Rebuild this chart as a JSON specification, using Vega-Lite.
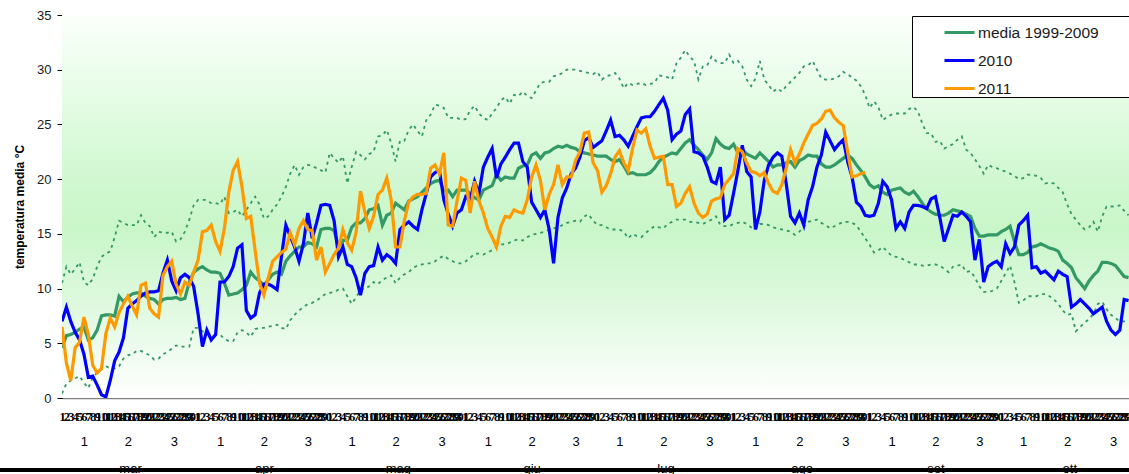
{
  "$schema": "https://vega.github.io/schema/vega-lite/v6.json",
  "autosize": "none",
  "width": 1067,
  "height": 383,
  "padding": {"left": 62, "top": 15, "right": 0, "bottom": 76},
  "background": "white",
  "config": {
    "font": "Liberation Sans",
    "view": {"stroke": null},
    "axisY": {"grid": true, "gridColor": "#3c3c3c", "gridWidth": 1, "domainColor": "black", "tickColor": "black", "tickSize": 5, "labelFontSize": 13, "labelColor": "#1a1a1a", "labelPadding": 6, "titleFontSize": 12, "titleFontWeight": "bold", "titleColor": "black", "titlePadding": 10}
  },
  "data": {"values": [
{"d":1,"m":4.6,"a":7.0,"b":6.5,"hi":10.5,"lo":0.4},
{"d":2,"m":5.7,"a":8.3,"b":3.2,"hi":12.0,"lo":1.3},
{"d":3,"m":5.8,"a":7.0,"b":1.6,"hi":11.3,"lo":1.6},
{"d":4,"m":6.0,"a":6.0,"b":4.6,"hi":11.8,"lo":1.8},
{"d":5,"m":6.3,"a":5.3,"b":5.1,"hi":12.4,"lo":2.0},
{"d":6,"m":6.5,"a":4.0,"b":7.4,"hi":10.6,"lo":1.4},
{"d":7,"m":5.3,"a":1.9,"b":5.8,"hi":10.3,"lo":0.9},
{"d":8,"m":5.5,"a":2.0,"b":3.0,"hi":10.9,"lo":1.9},
{"d":9,"m":6.2,"a":1.2,"b":2.3,"hi":12.0,"lo":2.3},
{"d":10,"m":7.5,"a":0.3,"b":2.7,"hi":12.9,"lo":2.6},
{"d":11,"m":7.6,"a":0.1,"b":5.9,"hi":13.2,"lo":2.9},
{"d":12,"m":7.6,"a":1.6,"b":7.3,"hi":13.4,"lo":2.7},
{"d":13,"m":7.5,"a":3.4,"b":6.5,"hi":14.7,"lo":2.7},
{"d":14,"m":9.3,"a":4.2,"b":7.8,"hi":16.2,"lo":2.9},
{"d":15,"m":8.8,"a":5.5,"b":8.6,"hi":16.0,"lo":3.6},
{"d":16,"m":9.2,"a":8.2,"b":9.3,"hi":15.8,"lo":3.9},
{"d":17,"m":9.5,"a":8.6,"b":8.4,"hi":15.8,"lo":4.0},
{"d":18,"m":9.6,"a":8.9,"b":7.6,"hi":15.8,"lo":4.3},
{"d":19,"m":9.6,"a":9.3,"b":10.3,"hi":16.7,"lo":4.3},
{"d":20,"m":9.3,"a":9.6,"b":10.5,"hi":16.0,"lo":4.1},
{"d":21,"m":9.1,"a":9.7,"b":8.2,"hi":15.7,"lo":3.9},
{"d":22,"m":9.0,"a":9.7,"b":7.7,"hi":14.7,"lo":3.5},
{"d":23,"m":8.6,"a":9.8,"b":7.4,"hi":15.2,"lo":3.6},
{"d":24,"m":9.0,"a":11.4,"b":11.2,"hi":15.1,"lo":4.0},
{"d":25,"m":9.1,"a":12.6,"b":12.0,"hi":15.1,"lo":4.2},
{"d":26,"m":9.1,"a":10.7,"b":12.5,"hi":15.2,"lo":4.5},
{"d":27,"m":9.2,"a":9.8,"b":10.4,"hi":14.3,"lo":4.8},
{"d":28,"m":9.0,"a":11.0,"b":9.5,"hi":14.5,"lo":4.7},
{"d":29,"m":9.1,"a":11.3,"b":10.6,"hi":15.2,"lo":4.7},
{"d":30,"m":10.6,"a":11.0,"b":10.3,"hi":16.3,"lo":4.7},
{"d":31,"m":11.5,"a":10.2,"b":11.5,"hi":17.6,"lo":6.4},
{"d":32,"m":11.8,"a":7.7,"b":12.6,"hi":18.1,"lo":6.4},
{"d":33,"m":12.0,"a":4.7,"b":15.2,"hi":18.1,"lo":6.1},
{"d":34,"m":11.7,"a":6.2,"b":15.3,"hi":18.1,"lo":5.9},
{"d":35,"m":11.5,"a":5.3,"b":15.8,"hi":17.8,"lo":5.8},
{"d":36,"m":11.5,"a":5.8,"b":14.3,"hi":17.8,"lo":5.8},
{"d":37,"m":11.4,"a":10.6,"b":13.4,"hi":17.7,"lo":5.8},
{"d":38,"m":10.5,"a":10.6,"b":15.5,"hi":18.4,"lo":5.4},
{"d":39,"m":9.4,"a":11.1,"b":18.8,"hi":16.9,"lo":5.2},
{"d":40,"m":9.5,"a":12.0,"b":20.8,"hi":17.0,"lo":5.2},
{"d":41,"m":9.6,"a":13.7,"b":21.6,"hi":17.2,"lo":6.0},
{"d":42,"m":9.9,"a":14.0,"b":19.3,"hi":16.6,"lo":6.2},
{"d":43,"m":10.3,"a":8.0,"b":16.4,"hi":17.2,"lo":6.0},
{"d":44,"m":11.5,"a":7.3,"b":16.6,"hi":17.8,"lo":5.6},
{"d":45,"m":11.0,"a":7.6,"b":13.5,"hi":18.4,"lo":6.3},
{"d":46,"m":10.7,"a":9.6,"b":10.5,"hi":17.7,"lo":6.4},
{"d":47,"m":10.3,"a":10.4,"b":9.4,"hi":16.4,"lo":6.4},
{"d":48,"m":10.8,"a":10.4,"b":11.0,"hi":16.6,"lo":6.5},
{"d":49,"m":11.3,"a":10.2,"b":12.5,"hi":17.2,"lo":6.6},
{"d":50,"m":11.5,"a":9.9,"b":12.9,"hi":17.7,"lo":6.7},
{"d":51,"m":11.3,"a":12.9,"b":13.3,"hi":18.4,"lo":6.4},
{"d":52,"m":12.5,"a":15.8,"b":13.6,"hi":19.3,"lo":6.3},
{"d":53,"m":13.0,"a":14.8,"b":15.1,"hi":20.5,"lo":7.1},
{"d":54,"m":13.4,"a":13.8,"b":14.0,"hi":21.3,"lo":7.6},
{"d":55,"m":13.8,"a":12.5,"b":15.5,"hi":20.4,"lo":8.0},
{"d":56,"m":13.8,"a":14.1,"b":16.2,"hi":21.1,"lo":8.3},
{"d":57,"m":14.2,"a":16.9,"b":15.4,"hi":21.3,"lo":8.6},
{"d":58,"m":14.1,"a":14.6,"b":15.3,"hi":21.2,"lo":8.7},
{"d":59,"m":13.8,"a":16.0,"b":12.6,"hi":21.0,"lo":8.9},
{"d":60,"m":15.4,"a":17.6,"b":13.8,"hi":20.8,"lo":9.2},
{"d":61,"m":15.5,"a":17.7,"b":11.5,"hi":20.6,"lo":9.5},
{"d":62,"m":15.5,"a":17.6,"b":12.3,"hi":22.4,"lo":9.6},
{"d":63,"m":15.3,"a":16.2,"b":13.1,"hi":21.9,"lo":9.7},
{"d":64,"m":13.8,"a":12.9,"b":13.7,"hi":21.5,"lo":9.9},
{"d":65,"m":14.4,"a":13.8,"b":15.4,"hi":22.1,"lo":10.0},
{"d":66,"m":14.4,"a":12.2,"b":14.2,"hi":19.6,"lo":9.3},
{"d":67,"m":15.6,"a":12.0,"b":13.5,"hi":21.1,"lo":8.6},
{"d":68,"m":16.0,"a":11.0,"b":15.1,"hi":22.5,"lo":9.2},
{"d":69,"m":16.0,"a":9.4,"b":18.9,"hi":22.2,"lo":9.9},
{"d":70,"m":16.4,"a":11.4,"b":17.0,"hi":21.8,"lo":10.0},
{"d":71,"m":17.2,"a":12.0,"b":15.5,"hi":22.3,"lo":10.2},
{"d":72,"m":17.3,"a":12.1,"b":16.6,"hi":22.5,"lo":10.6},
{"d":73,"m":17.6,"a":13.8,"b":18.6,"hi":23.9,"lo":10.4},
{"d":74,"m":15.8,"a":12.6,"b":19.0,"hi":24.0,"lo":10.8},
{"d":75,"m":16.7,"a":13.1,"b":20.1,"hi":24.5,"lo":11.0},
{"d":76,"m":16.9,"a":12.8,"b":18.1,"hi":23.3,"lo":11.2},
{"d":77,"m":17.8,"a":12.3,"b":13.8,"hi":21.6,"lo":10.5},
{"d":78,"m":17.5,"a":15.4,"b":13.8,"hi":23.5,"lo":11.0},
{"d":79,"m":17.2,"a":15.8,"b":16.2,"hi":23.5,"lo":11.3},
{"d":80,"m":18.0,"a":16.1,"b":17.9,"hi":24.5,"lo":11.5},
{"d":81,"m":18.2,"a":15.7,"b":18.4,"hi":25.0,"lo":11.9},
{"d":82,"m":18.4,"a":15.4,"b":18.6,"hi":24.4,"lo":12.1},
{"d":83,"m":18.8,"a":17.2,"b":18.6,"hi":23.9,"lo":12.2},
{"d":84,"m":19.2,"a":18.7,"b":18.7,"hi":25.4,"lo":12.3},
{"d":85,"m":19.6,"a":20.2,"b":21.0,"hi":25.9,"lo":12.3},
{"d":86,"m":19.8,"a":20.6,"b":21.3,"hi":26.8,"lo":12.5},
{"d":87,"m":19.9,"a":20.8,"b":20.5,"hi":26.7,"lo":12.8},
{"d":88,"m":18.9,"a":18.1,"b":22.4,"hi":26.5,"lo":13.0},
{"d":89,"m":19.0,"a":16.8,"b":15.8,"hi":25.6,"lo":12.7},
{"d":90,"m":18.4,"a":15.7,"b":15.7,"hi":25.6,"lo":12.5},
{"d":91,"m":19.0,"a":16.9,"b":18.0,"hi":25.6,"lo":12.3},
{"d":92,"m":19.0,"a":17.2,"b":20.1,"hi":25.4,"lo":12.3},
{"d":93,"m":19.0,"a":18.4,"b":19.9,"hi":25.5,"lo":12.5},
{"d":94,"m":18.7,"a":18.1,"b":16.9,"hi":26.3,"lo":12.8},
{"d":95,"m":18.3,"a":19.8,"b":19.8,"hi":26.7,"lo":13.2},
{"d":96,"m":18.1,"a":18.7,"b":18.0,"hi":26.0,"lo":13.2},
{"d":97,"m":19.0,"a":21.1,"b":16.9,"hi":25.6,"lo":13.1},
{"d":98,"m":19.2,"a":22.0,"b":15.5,"hi":25.4,"lo":13.3},
{"d":99,"m":19.4,"a":22.8,"b":14.7,"hi":26.0,"lo":13.5},
{"d":100,"m":20.4,"a":20.1,"b":13.8,"hi":26.5,"lo":13.8},
{"d":101,"m":19.9,"a":21.4,"b":15.7,"hi":27.2,"lo":14.0},
{"d":102,"m":20.2,"a":22.0,"b":16.6,"hi":27.5,"lo":14.1},
{"d":103,"m":20.1,"a":22.7,"b":16.5,"hi":26.9,"lo":14.2},
{"d":104,"m":20.1,"a":23.3,"b":17.2,"hi":27.7,"lo":14.4},
{"d":105,"m":21.0,"a":23.3,"b":17.0,"hi":27.6,"lo":14.5},
{"d":106,"m":21.2,"a":21.6,"b":16.9,"hi":28.0,"lo":14.4},
{"d":107,"m":21.3,"a":21.1,"b":18.1,"hi":27.6,"lo":14.7},
{"d":108,"m":22.2,"a":17.9,"b":20.2,"hi":27.4,"lo":14.9},
{"d":109,"m":22.4,"a":17.2,"b":21.3,"hi":28.1,"lo":15.0},
{"d":110,"m":21.9,"a":16.5,"b":19.9,"hi":28.8,"lo":15.1},
{"d":111,"m":22.4,"a":17.2,"b":17.2,"hi":28.9,"lo":15.2},
{"d":112,"m":22.5,"a":15.4,"b":18.6,"hi":28.9,"lo":15.4},
{"d":113,"m":22.8,"a":12.3,"b":19.5,"hi":29.4,"lo":15.5},
{"d":114,"m":23.0,"a":16.5,"b":21.3,"hi":29.5,"lo":15.6},
{"d":115,"m":22.9,"a":18.3,"b":19.5,"hi":29.7,"lo":15.8},
{"d":116,"m":23.1,"a":19.2,"b":20.2,"hi":30.0,"lo":16.0},
{"d":117,"m":22.9,"a":20.5,"b":20.2,"hi":30.0,"lo":16.1},
{"d":118,"m":22.8,"a":21.0,"b":21.7,"hi":30.0,"lo":16.2},
{"d":119,"m":22.5,"a":22.0,"b":22.5,"hi":29.9,"lo":16.1},
{"d":120,"m":22.4,"a":23.5,"b":24.2,"hi":29.8,"lo":16.6},
{"d":121,"m":22.3,"a":23.8,"b":24.3,"hi":29.7,"lo":16.8},
{"d":122,"m":22.2,"a":22.9,"b":21.5,"hi":29.6,"lo":16.2},
{"d":123,"m":22.1,"a":23.2,"b":20.8,"hi":29.8,"lo":15.8},
{"d":124,"m":22.1,"a":23.5,"b":18.8,"hi":29.1,"lo":15.8},
{"d":125,"m":22.1,"a":24.4,"b":19.4,"hi":29.4,"lo":15.6},
{"d":126,"m":21.8,"a":25.4,"b":20.5,"hi":29.5,"lo":15.4},
{"d":127,"m":21.6,"a":23.9,"b":22.0,"hi":29.7,"lo":15.4},
{"d":128,"m":21.8,"a":24.0,"b":22.6,"hi":29.2,"lo":15.4},
{"d":129,"m":21.2,"a":23.6,"b":21.5,"hi":28.3,"lo":15.2},
{"d":130,"m":20.5,"a":23.0,"b":20.8,"hi":28.8,"lo":14.6},
{"d":131,"m":20.6,"a":23.9,"b":22.8,"hi":28.6,"lo":15.0},
{"d":132,"m":20.4,"a":24.8,"b":24.5,"hi":28.7,"lo":14.8},
{"d":133,"m":20.4,"a":25.6,"b":24.2,"hi":28.8,"lo":14.7},
{"d":134,"m":20.4,"a":25.7,"b":24.6,"hi":28.6,"lo":15.1},
{"d":135,"m":20.6,"a":25.7,"b":23.0,"hi":28.7,"lo":15.4},
{"d":136,"m":21.0,"a":26.2,"b":21.9,"hi":28.8,"lo":15.7},
{"d":137,"m":21.6,"a":26.8,"b":22.0,"hi":29.5,"lo":15.6},
{"d":138,"m":22.0,"a":27.4,"b":22.1,"hi":29.4,"lo":15.5},
{"d":139,"m":22.2,"a":26.3,"b":19.5,"hi":29.3,"lo":15.9},
{"d":140,"m":22.4,"a":23.6,"b":19.5,"hi":29.1,"lo":16.1},
{"d":141,"m":22.3,"a":24.1,"b":17.5,"hi":30.6,"lo":16.3},
{"d":142,"m":22.8,"a":24.4,"b":17.8,"hi":31.1,"lo":16.3},
{"d":143,"m":23.3,"a":25.9,"b":18.7,"hi":31.8,"lo":16.3},
{"d":144,"m":23.6,"a":26.4,"b":19.3,"hi":31.2,"lo":16.1},
{"d":145,"m":23.1,"a":22.5,"b":17.8,"hi":30.8,"lo":16.1},
{"d":146,"m":22.7,"a":22.4,"b":16.9,"hi":29.1,"lo":16.0},
{"d":147,"m":22.2,"a":22.1,"b":16.5,"hi":30.3,"lo":15.9},
{"d":148,"m":21.8,"a":21.1,"b":16.8,"hi":30.4,"lo":16.1},
{"d":149,"m":22.4,"a":19.8,"b":18.0,"hi":31.2,"lo":16.3},
{"d":150,"m":23.7,"a":19.6,"b":18.2,"hi":30.8,"lo":16.6},
{"d":151,"m":23.2,"a":21.1,"b":18.3,"hi":30.6,"lo":15.8},
{"d":152,"m":22.9,"a":16.3,"b":19.5,"hi":30.6,"lo":15.7},
{"d":153,"m":22.8,"a":16.7,"b":20.0,"hi":31.4,"lo":15.7},
{"d":154,"m":23.2,"a":18.7,"b":20.5,"hi":30.6,"lo":15.9},
{"d":155,"m":22.4,"a":20.8,"b":22.8,"hi":30.8,"lo":16.0},
{"d":156,"m":22.7,"a":23.1,"b":22.5,"hi":30.3,"lo":16.1},
{"d":157,"m":22.3,"a":20.7,"b":21.5,"hi":29.1,"lo":15.9},
{"d":158,"m":22.1,"a":20.2,"b":20.7,"hi":28.5,"lo":15.6},
{"d":159,"m":21.9,"a":15.4,"b":20.6,"hi":29.2,"lo":15.4},
{"d":160,"m":22.4,"a":17.0,"b":20.3,"hi":30.8,"lo":15.9},
{"d":161,"m":22.0,"a":19.9,"b":20.6,"hi":29.1,"lo":15.9},
{"d":162,"m":21.6,"a":21.3,"b":19.6,"hi":28.6,"lo":15.8},
{"d":163,"m":21.1,"a":22.0,"b":18.9,"hi":28.0,"lo":15.6},
{"d":164,"m":21.3,"a":22.4,"b":18.7,"hi":28.3,"lo":15.5},
{"d":165,"m":21.3,"a":22.1,"b":19.5,"hi":28.0,"lo":15.4},
{"d":166,"m":21.5,"a":19.6,"b":21.0,"hi":28.5,"lo":15.3},
{"d":167,"m":21.6,"a":16.6,"b":22.7,"hi":28.9,"lo":15.2},
{"d":168,"m":21.1,"a":16.0,"b":21.5,"hi":29.3,"lo":14.9},
{"d":169,"m":21.7,"a":16.9,"b":22.3,"hi":29.7,"lo":15.2},
{"d":170,"m":21.9,"a":15.8,"b":23.3,"hi":30.3,"lo":15.6},
{"d":171,"m":22.2,"a":18.1,"b":24.1,"hi":30.4,"lo":16.1},
{"d":172,"m":22.1,"a":19.3,"b":24.9,"hi":30.8,"lo":16.2},
{"d":173,"m":22.1,"a":21.1,"b":25.1,"hi":30.0,"lo":16.3},
{"d":174,"m":21.4,"a":22.2,"b":25.5,"hi":29.2,"lo":16.0},
{"d":175,"m":21.1,"a":24.3,"b":26.2,"hi":29.1,"lo":15.8},
{"d":176,"m":21.1,"a":23.5,"b":26.3,"hi":29.1,"lo":15.5},
{"d":177,"m":21.3,"a":22.7,"b":25.6,"hi":29.2,"lo":15.7},
{"d":178,"m":21.6,"a":23.2,"b":25.2,"hi":29.4,"lo":15.9},
{"d":179,"m":21.9,"a":23.6,"b":24.9,"hi":29.8,"lo":16.1},
{"d":180,"m":22.2,"a":21.6,"b":22.5,"hi":29.6,"lo":16.1},
{"d":181,"m":21.9,"a":20.2,"b":20.2,"hi":29.3,"lo":16.0},
{"d":182,"m":21.3,"a":17.9,"b":20.3,"hi":29.0,"lo":15.8},
{"d":183,"m":20.8,"a":17.5,"b":20.5,"hi":28.5,"lo":15.2},
{"d":184,"m":20.2,"a":16.7,"b":20.6,"hi":27.7,"lo":14.6},
{"d":185,"m":19.5,"a":16.6,"hi":26.5,"lo":14.0},
{"d":186,"m":19.2,"a":16.7,"hi":27.1,"lo":13.3},
{"d":187,"m":19.4,"a":17.8,"hi":26.6,"lo":13.5},
{"d":188,"m":18.8,"a":19.8,"hi":25.4,"lo":13.8},
{"d":189,"m":18.6,"a":19.3,"hi":25.7,"lo":13.4},
{"d":190,"m":19.0,"a":18.1,"hi":25.9,"lo":13.0},
{"d":191,"m":19.1,"a":15.5,"hi":26.0,"lo":12.9},
{"d":192,"m":19.2,"a":16.1,"hi":26.0,"lo":12.8},
{"d":193,"m":18.8,"a":15.5,"hi":26.0,"lo":12.6},
{"d":194,"m":18.6,"a":17.0,"hi":26.4,"lo":12.4},
{"d":195,"m":18.9,"a":17.6,"hi":26.6,"lo":12.2},
{"d":196,"m":18.4,"a":17.6,"hi":26.2,"lo":12.2},
{"d":197,"m":17.8,"a":17.5,"hi":25.1,"lo":12.1},
{"d":198,"m":17.3,"a":17.3,"hi":24.2,"lo":12.1},
{"d":199,"m":17.0,"a":18.2,"hi":24.2,"lo":12.2},
{"d":200,"m":16.8,"a":18.4,"hi":23.4,"lo":12.2},
{"d":201,"m":16.7,"a":16.5,"hi":23.5,"lo":12.1},
{"d":202,"m":16.7,"a":14.3,"hi":22.8,"lo":11.8},
{"d":203,"m":16.9,"a":15.5,"hi":23.0,"lo":11.5},
{"d":204,"m":17.2,"a":16.7,"hi":23.2,"lo":12.0},
{"d":205,"m":17.1,"a":16.6,"hi":23.6,"lo":12.1},
{"d":206,"m":17.0,"a":17.0,"hi":23.9,"lo":12.2},
{"d":207,"m":16.8,"a":16.6,"hi":22.7,"lo":11.5},
{"d":208,"m":16.6,"a":16.1,"hi":22.4,"lo":11.6},
{"d":209,"m":15.5,"a":12.6,"hi":21.8,"lo":11.0},
{"d":210,"m":14.8,"a":14.5,"hi":21.2,"lo":10.2},
{"d":211,"m":14.8,"a":10.6,"hi":20.5,"lo":9.7},
{"d":212,"m":14.9,"a":12.0,"hi":21.3,"lo":9.7},
{"d":213,"m":14.9,"a":12.3,"hi":21.1,"lo":9.8},
{"d":214,"m":14.9,"a":12.5,"hi":21.0,"lo":10.0},
{"d":215,"m":15.2,"a":12.0,"hi":20.8,"lo":10.7},
{"d":216,"m":15.4,"a":14.1,"hi":20.7,"lo":11.4},
{"d":217,"m":15.7,"a":13.2,"hi":20.5,"lo":12.1},
{"d":218,"m":14.3,"a":13.8,"hi":20.3,"lo":10.6},
{"d":219,"m":13.1,"a":15.8,"hi":20.0,"lo":8.7},
{"d":220,"m":13.1,"a":16.2,"hi":20.1,"lo":8.9},
{"d":221,"m":13.3,"a":16.7,"hi":20.4,"lo":9.3},
{"d":222,"m":13.8,"a":11.9,"hi":20.4,"lo":9.3},
{"d":223,"m":13.9,"a":12.0,"hi":20.3,"lo":9.3},
{"d":224,"m":14.1,"a":11.4,"hi":20.1,"lo":9.5},
{"d":225,"m":13.9,"a":11.6,"hi":19.6,"lo":9.5},
{"d":226,"m":13.7,"a":11.2,"hi":19.7,"lo":9.3},
{"d":227,"m":13.6,"a":10.8,"hi":19.6,"lo":9.0},
{"d":228,"m":13.4,"a":11.6,"hi":19.2,"lo":8.6},
{"d":229,"m":12.6,"a":11.3,"hi":18.8,"lo":8.0},
{"d":230,"m":12.3,"a":11.1,"hi":17.7,"lo":7.6},
{"d":231,"m":11.9,"a":8.3,"hi":16.8,"lo":7.7},
{"d":232,"m":11.0,"a":8.6,"hi":16.3,"lo":6.1},
{"d":233,"m":10.5,"a":9.0,"hi":15.8,"lo":6.5},
{"d":234,"m":10.0,"a":8.6,"hi":15.4,"lo":6.9},
{"d":235,"m":10.7,"a":8.2,"hi":15.6,"lo":7.2},
{"d":236,"m":11.2,"a":7.7,"hi":16.1,"lo":7.7},
{"d":237,"m":11.6,"a":8.0,"hi":15.2,"lo":8.6},
{"d":238,"m":12.4,"a":8.3,"hi":16.6,"lo":8.8},
{"d":239,"m":12.4,"a":7.0,"hi":17.5,"lo":8.1},
{"d":240,"m":12.3,"a":6.2,"hi":17.5,"lo":7.6},
{"d":241,"m":12.1,"a":5.8,"hi":17.5,"lo":7.3},
{"d":242,"m":11.6,"a":6.2,"hi":17.6,"lo":7.0},
{"d":243,"m":11.1,"a":9.0,"hi":17.1,"lo":7.0},
{"d":244,"m":11.0,"a":8.9,"hi":16.7,"lo":7.0}
  ]},
  "resolve": {"scale": {"x": "shared", "y": "shared"}, "axis": {"x": "independent"}},
  "layer": [
    {
      "mark": {"type": "rect", "fill": {"gradient": "linear", "x1": 0, "y1": 0, "x2": 0, "y2": 1, "stops": [
        {"offset": 0, "color": "#fbfffb"},
        {"offset": 0.15, "color": "#ecfdec"},
        {"offset": 0.4, "color": "#d3f8d3"},
        {"offset": 0.56, "color": "#c9f6c9"},
        {"offset": 0.76, "color": "#dff9df"},
        {"offset": 1, "color": "#ffffff"}]}},
      "encoding": {
        "x": {"datum": 1, "type": "quantitative", "scale": {"domain": [1, 244.1], "nice": false, "zero": false}, "axis": null},
        "x2": {"datum": 244.1},
        "y": {"datum": 0, "type": "quantitative", "scale": {"domain": [0, 35], "nice": false}, "axis": {"values": [0,5,10,15,20,25,30,35], "title": "temperatura media °C"}},
        "y2": {"datum": 35}
      }
    },
    {
      "mark": {"type": "line", "stroke": "#339966", "strokeWidth": 1.8, "strokeDash": [3, 4], "clip": true},
      "encoding": {
        "x": {"field": "d", "type": "quantitative", "axis": null},
        "y": {"field": "hi", "type": "quantitative"}
      }
    },
    {
      "mark": {"type": "line", "stroke": "#339966", "strokeWidth": 1.8, "strokeDash": [3, 4], "clip": true},
      "encoding": {
        "x": {"field": "d", "type": "quantitative", "axis": null},
        "y": {"field": "lo", "type": "quantitative"}
      }
    },
    {
      "mark": {"type": "line", "strokeWidth": 3.2, "clip": true},
      "encoding": {
        "x": {"field": "d", "type": "quantitative", "axis": {
          "orient": "bottom", "title": null, "grid": false, "tickCount": 244, "ticks": false, "tickSize": 0,
          "labelOverlap": false, "labelFlush": false, "labelBound": false,
          "labelFont": "Liberation Sans Narrow", "labelFontSize": 12.5, "labelFontWeight": "bold", "labelColor": "black", "labelPadding": 12,
          "domain": true, "domainColor": "#808080", "domainWidth": 1.5,
          "labelExpr": "datum.value - (datum.value >= 215 ? 214 : datum.value >= 185 ? 184 : datum.value >= 154 ? 153 : datum.value >= 123 ? 122 : datum.value >= 93 ? 92 : datum.value >= 62 ? 61 : datum.value >= 32 ? 31 : 0)"}},
        "y": {"field": "m", "type": "quantitative"},
        "color": {"datum": "media 1999-2009", "type": "nominal",
          "scale": {"domain": ["media 1999-2009", "2010", "2011"], "range": ["#339966", "#0000ff", "#ff9900"]},
          "legend": {"title": null, "orient": "none", "legendX": 850, "legendY": 1, "padding": 0,
            "fillColor": "white", "strokeColor": "black", "symbolType": "stroke", "symbolSize": 900,
            "symbolStrokeWidth": 3, "symbolOffset": 31, "labelOffset": 2, "labelFontSize": 15.5,
            "labelColor": "#1a1a1a", "rowPadding": 3,
            "labelExpr": "datum.label + '\u00a0\u00a0\u00a0\u00a0\u00a0\u00a0\u00a0\u200b'"}}
      }
    },
    {
      "mark": {"type": "line", "strokeWidth": 3.2, "clip": true},
      "encoding": {
        "x": {"field": "d", "type": "quantitative", "axis": {
          "orient": "bottom", "title": null, "grid": false, "ticks": false, "tickSize": 0, "domain": false,
          "values": [6,16,26.5,37,47,57,67,77,87.5,98,108,118,128,138,148.5,159,169,179.5,190,200,210,220,230,240.5],
          "labelOverlap": false, "labelFlush": false, "labelBound": false,
          "labelFontSize": 13, "labelColor": "black", "labelPadding": 37,
          "labelExpr": "indexof([6,37,67,98,128,159,190,220], datum.value) >= 0 ? '1' : (indexof([16,47,77,108,138,169,200,230], datum.value) >= 0 ? '2' : '3')"}},
        "y": {"field": "a", "type": "quantitative"},
        "color": {"datum": "2010", "type": "nominal"}
      }
    },
    {
      "mark": {"type": "line", "strokeWidth": 3.2, "clip": true},
      "encoding": {
        "x": {"field": "d", "type": "quantitative", "axis": {
          "orient": "bottom", "title": null, "grid": false, "ticks": false, "tickSize": 0, "domain": false,
          "values": [16.5,47,77.5,108,138.5,169.5,200,230.5],
          "labelOverlap": false, "labelFlush": false, "labelBound": false,
          "labelFontSize": 13, "labelColor": "black", "labelPadding": 64,
          "labelExpr": "['mar','apr','mag','giu','lug','ago','set','ott'][indexof([16.5,47,77.5,108,138.5,169.5,200,230.5], datum.value)]"}},
        "y": {"field": "b", "type": "quantitative"},
        "color": {"datum": "2011", "type": "nominal"}
      }
    },
    {
      "mark": {"type": "rule", "color": "black", "strokeWidth": 3, "clip": false},
      "encoding": {
        "x": {"datum": -13.2, "type": "quantitative", "axis": null},
        "x2": {"datum": 244.1},
        "y": {"datum": -6.58, "type": "quantitative"}
      }
    }
  ]
}
